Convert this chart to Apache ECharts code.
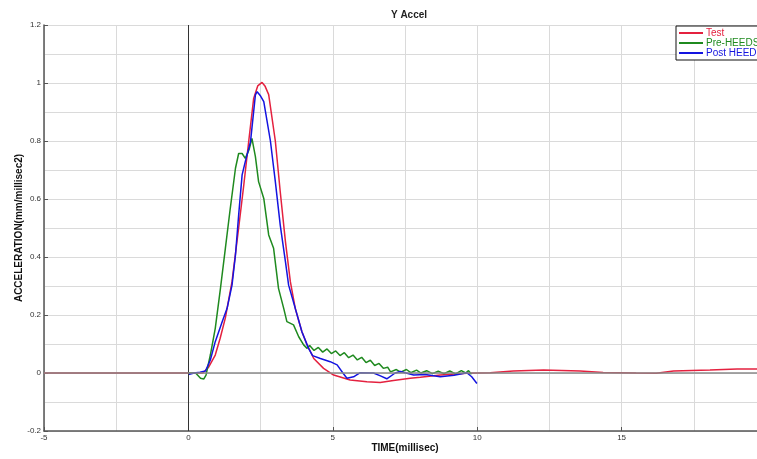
<!DOCTYPE html>
<html>
<head>
<meta charset="utf-8">
<script src="https://cdn.jsdelivr.net/npm/echarts@6/dist/echarts.min.js"></script>
<style>html,body{margin:0;padding:0;background:#fff;overflow:hidden;}#c{width:757px;height:459px;}</style>
</head>
<body>
<div id="c"></div>
<script>
const seriesNames = ['Test', 'Pre-HEEDS', 'Post HEEDS'];
const xTicks = [-5, 0, 5, 10, 15, 20];
const yTicks = [-0.2, 0, 0.2, 0.4, 0.6, 0.8, 1, 1.2];

const testT = [-5, 0.5, 0.7, 0.93, 1.1, 1.28, 1.51, 1.74, 1.92, 2.09, 2.26, 2.4, 2.55, 2.65, 2.78, 3.01, 3.18, 3.36, 3.53, 3.7, 3.93, 4.1, 4.34, 4.68, 5.03, 5.6, 6.18, 6.64, 7.1, 7.68, 8.03, 8.72, 9.64, 10.45, 11.25, 12.3, 13.56, 14.36, 15.5, 16.2, 16.8, 18.06, 19, 20];
const testV = [0, 0, 0.02, 0.062, 0.12, 0.19, 0.315, 0.5, 0.65, 0.8, 0.947, 0.99, 1.002, 0.99, 0.96, 0.8, 0.625, 0.453, 0.315, 0.223, 0.142, 0.1, 0.05, 0.016, -0.007, -0.024, -0.03, -0.033, -0.026, -0.018, -0.015, -0.007, -0.001, 0.001, 0.007, 0.01, 0.007, 0.002, 0, -0.001, 0.007, 0.01, 0.014, 0.014];

const preT = [0, 0.25, 0.42, 0.53, 0.61, 0.76, 0.93, 1.11, 1.28, 1.45, 1.63, 1.74, 1.86, 1.97, 2.1, 2.2, 2.32, 2.43, 2.61, 2.78, 2.95, 3.12, 3.3, 3.41, 3.64, 3.82, 3.99, 4.11, 4.2, 4.35, 4.5, 4.65, 4.8, 4.95, 5.1, 5.25, 5.4, 5.55, 5.7, 5.85, 6.0, 6.15, 6.3, 6.45, 6.6, 6.75, 6.9, 7.0, 7.2, 7.35, 7.55, 7.7, 7.9, 8.05, 8.25, 8.45, 8.65, 8.85, 9.05, 9.25, 9.45, 9.6, 9.7, 9.8];
const preV = [0, 0, -0.018, -0.021, -0.007, 0.062, 0.154, 0.292, 0.43, 0.568, 0.706, 0.757, 0.757, 0.74, 0.77, 0.809, 0.746, 0.66, 0.602, 0.476, 0.43, 0.292, 0.223, 0.177, 0.166, 0.125, 0.097, 0.085, 0.095, 0.078, 0.088, 0.072, 0.083, 0.067, 0.076, 0.06, 0.07, 0.053, 0.062, 0.045, 0.054, 0.036, 0.044, 0.026, 0.033, 0.016, 0.02, 0.004, 0.012, 0.003, 0.012, 0.001, 0.01, 0.0, 0.008, -0.002, 0.006, -0.002, 0.007, -0.003, 0.008, 0.0, 0.008, -0.004];

const postT = [0, 0.2, 0.4, 0.59, 0.76, 0.93, 1.17, 1.34, 1.51, 1.63, 1.74, 1.86, 1.97, 2.15, 2.32, 2.38, 2.5, 2.61, 2.84, 3.01, 3.18, 3.36, 3.47, 3.7, 3.93, 4.16, 4.3, 4.57, 4.91, 5.15, 5.35, 5.49, 5.72, 5.95, 6.41, 6.65, 6.87, 7.16, 7.34, 7.8, 8.2, 8.72, 9.2, 9.64, 9.81, 9.99];
const postV = [-0.005, 0.0, 0.003, 0.007, 0.045, 0.108, 0.177, 0.223, 0.303, 0.407, 0.545, 0.683, 0.729, 0.797, 0.959, 0.97, 0.955, 0.936, 0.8, 0.66, 0.51, 0.384, 0.303, 0.223, 0.142, 0.085, 0.06, 0.05, 0.039, 0.028, 0.0, -0.018, -0.013, 0.001, 0.0, -0.01, -0.02, 0.0, 0.005, -0.007, -0.005, -0.013, -0.008, 0.001, -0.013, -0.036];

const colors = ['#e4213f', '#1f8a1f', '#1414e0'];

function pairs(t, v) { return t.map((x, i) => [x, v[i]]); }

const chart = echarts.init(document.getElementById('c'), null, {renderer: 'canvas'});
const lblFont = 'Liberation Sans, Arial, sans-serif';

chart.setOption({
  animation: false,
  backgroundColor: '#fff',
  title: {
    text: 'Y Accel',
    left: 404, top: 5, textAlign: 'center',
    textStyle: {fontSize: 10, fontWeight: 'bold', color: '#222', fontFamily: lblFont}
  },
  legend: {
    orient: 'vertical',
    left: 676, top: 26,
    padding: [2, 70, 2, 3],
    itemGap: 0,
    itemWidth: 24, itemHeight: 2,
    icon: 'rect',
    borderColor: '#111', borderWidth: 1,
    backgroundColor: '#fff',
    textStyle: {fontSize: 10, lineHeight: 10, fontFamily: lblFont, padding: [0, 0, 0, -2]},
    data: seriesNames.map((n, i) => ({name: n, textStyle: {color: colors[i]}}))
  },
  grid: {left: 44, width: 722, top: 25, height: 406, containLabel: false, outerBoundsMode: 'none'},
  xAxis: {
    type: 'value', min: xTicks[0], max: xTicks[xTicks.length - 1], interval: 5,
    name: 'TIME(millisec)', nameLocation: 'middle', nameGap: 12, nameMoveOverlap: false,
    nameTextStyle: {fontSize: 10, fontWeight: 'bold', color: '#111', fontFamily: lblFont},
    axisLine: {show: true, onZero: false, lineStyle: {color: '#555', width: 1.5}},
    axisTick: {show: true, inside: true, length: 4, lineStyle: {color: '#555'}},
    axisLabel: {fontSize: 8, color: '#333', margin: 3, fontFamily: lblFont},
    splitLine: {show: true, lineStyle: {color: '#dadada', width: 1}},
    minorTick: {show: false, splitNumber: 2},
    minorSplitLine: {show: true, lineStyle: {color: '#dadada', width: 1}}
  },
  yAxis: {
    type: 'value', min: yTicks[0], max: yTicks[yTicks.length - 1], interval: 0.2,
    name: 'ACCELERATION(mm/millisec2)', nameLocation: 'middle', nameGap: 20, nameMoveOverlap: false,
    nameTextStyle: {fontSize: 10, fontWeight: 'bold', color: '#111', fontFamily: lblFont},
    axisLine: {show: true, onZero: false, lineStyle: {color: '#555', width: 1.5}},
    axisTick: {show: true, inside: true, length: 4, lineStyle: {color: '#555'}},
    axisLabel: {fontSize: 8, color: '#333', margin: 3, fontFamily: lblFont,
      formatter: v => String(Math.round(v * 10) / 10)},
    splitLine: {show: true, lineStyle: {color: '#dadada', width: 1}},
    minorTick: {show: false, splitNumber: 2},
    minorSplitLine: {show: true, lineStyle: {color: '#dadada', width: 1}}
  },
  series: [
    {
      name: '_ref', type: 'line', data: [], z: 1, silent: true,
      markLine: {
        silent: true, symbol: 'none', animation: false,
        label: {show: false},
        data: [
          {xAxis: 0, lineStyle: {color: '#333', width: 1, type: 'solid'}},
          {yAxis: 0, lineStyle: {color: '#8a8a8a', width: 1.5, type: 'solid'}}
        ]
      }
    },
    {name: seriesNames[0], type: 'line', data: pairs(testT, testV), showSymbol: false, symbol: 'none', z: 3,
      lineStyle: {color: colors[0], width: 1.5}, itemStyle: {color: colors[0]}},
    {name: seriesNames[1], type: 'line', data: pairs(preT, preV), showSymbol: false, symbol: 'none', z: 3,
      lineStyle: {color: colors[1], width: 1.5}, itemStyle: {color: colors[1]}},
    {name: seriesNames[2], type: 'line', data: pairs(postT, postV), showSymbol: false, symbol: 'none', z: 3,
      lineStyle: {color: colors[2], width: 1.5}, itemStyle: {color: colors[2]}}
  ]
});
</script>
</body>
</html>
